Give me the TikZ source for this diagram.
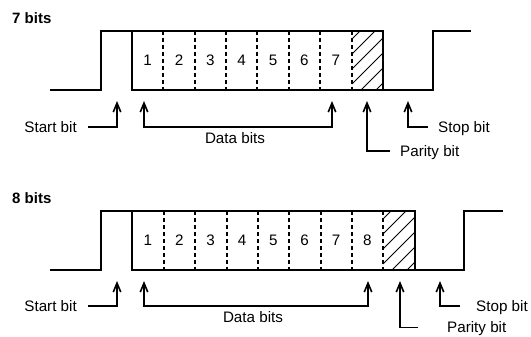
\documentclass[tikz,border=0pt]{standalone}
\usepackage{fontspec}
\setmainfont{Liberation Sans}
\usetikzlibrary{arrows.meta}
\begin{document}
\begin{tikzpicture}[x=1pt,y=-1pt,
  sig/.style={line width=1.8pt},
  sep/.style={line width=1.8pt, dash pattern=on 4pt off 3pt},
  hatchline/.style={line width=0.8pt},
  ptr/.style={line width=1.6pt, -{Straight Barb[length=9pt,width=7.5pt]}},
  ptrtwo/.style={line width=1.6pt, {Straight Barb[length=9pt,width=7.5pt]}-{Straight Barb[length=9pt,width=7.5pt]}},
  lbl/.style={font=\fontsize{15.2}{18}\selectfont, inner ysep=0pt, inner xsep=0pt, text height=10.9pt, text depth=0pt},
  ttl/.style={lbl, font=\fontsize{15}{18}\selectfont\bfseries}]
\useasboundingbox (0,0) rectangle (531,337);
\fill[white] (0,0) rectangle (531,337);

% ---------------- 7 bits ----------------
\node[ttl, anchor=west] (t7) at (12,18.3) {7 bits};
\begin{scope}
  \clip (352,31) rectangle (383,90);
  \foreach \k in {0,...,7} \draw[hatchline] (352,{39+15*\k}) -- ++(80,-80);
\end{scope}
\draw[sig] (50,90) -- (101,90) -- (101,31) -- (383,31) -- (383,90);
\draw[sig] (132,31) -- (132,90) -- (433,90) -- (433,31) -- (471,31);
\foreach \x in {163,195,226,257,289,320,352} \draw[sep] (\x,31) -- (\x,90);
\foreach \k in {1,...,7} \node[lbl] (a\k) at ({132+(\k-0.5)*31.35},60.5) {\k};

\node[lbl, anchor=east, inner xsep=11pt] (s7) at (88,127) {Start bit};
\coordinate (s7t) at (117,101);
\draw[ptr] (s7.east) -| (s7t);

\coordinate (d7a) at (144,101);
\coordinate (d7b) at (332,101);
\draw[ptrtwo] (d7a) -- ++(0,26) -| (d7b);
\node[lbl] (dl7) at (235,138.3) {Data bits};

\node[lbl, anchor=west, inner xsep=10pt] (p7) at (390,151) {Parity bit};
\coordinate (p7t) at (367,101);
\draw[ptr] (p7.west) -| (p7t);

\node[lbl, anchor=west, inner xsep=10pt] (st7) at (428,127) {Stop bit};
\coordinate (st7t) at (408,101);
\draw[ptr] (st7.west) -| (st7t);

% ---------------- 8 bits ----------------
\node[ttl, anchor=west] (t8) at (12,198.3) {8 bits};
\begin{scope}
  \clip (383,211) rectangle (415,270);
  \foreach \k in {0,...,7} \draw[hatchline] (383,{219+15*\k}) -- ++(80,-80);
\end{scope}
\draw[sig] (50,270) -- (101,270) -- (101,211) -- (415,211) -- (415,270);
\draw[sig] (132,211) -- (132,270) -- (464,270) -- (464,211) -- (503,211);
\foreach \x in {164,195,227,258,289,321,352,383} \draw[sep] (\x,211) -- (\x,270);
\foreach \k in {1,...,8} \node[lbl] (b\k) at ({132.3+(\k-0.5)*31.35},240.5) {\k};

\node[lbl, anchor=east, inner xsep=11pt] (s8) at (88,306) {Start bit};
\coordinate (s8t) at (117,281);
\draw[ptr] (s8.east) -| (s8t);

\coordinate (d8a) at (144,281);
\coordinate (d8b) at (368,281);
\draw[ptrtwo] (d8a) -- ++(0,25) -| (d8b);
\node[lbl] (dl8) at (253,317.2) {Data bits};

\node[lbl, anchor=west, inner xsep=29pt] (p8) at (418,327.5) {Parity bit};
\coordinate (p8t) at (400,281);
\draw[ptr] (p8.west) -| (p8t);

\node[lbl, anchor=west, inner xsep=16pt] (st8) at (460,306) {Stop bit};
\coordinate (st8t) at (440,281);
\draw[ptr] (st8.west) -| (st8t);
\end{tikzpicture}
\end{document}
